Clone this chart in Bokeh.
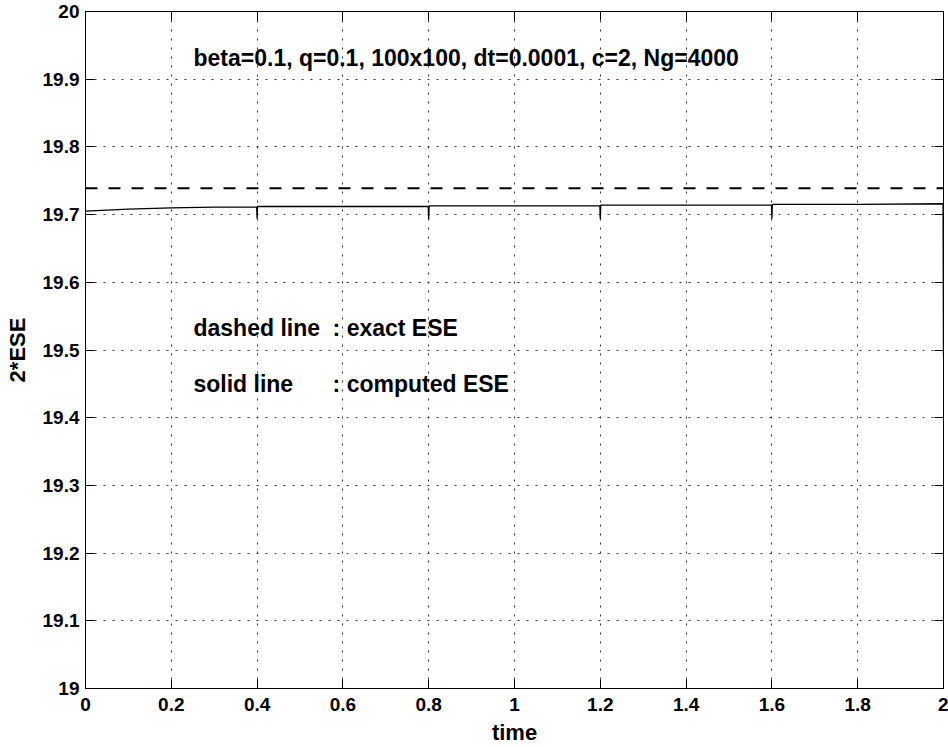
from bokeh.plotting import figure
from bokeh.models import Range1d, FixedTicker, LinearAxis
from bokeh.embed import file_html
from bokeh.resources import INLINE
from bokeh.core.properties import value

# ---- data ----
time_computed = [0.0, 0.1, 0.2, 0.3, 0.399, 0.4, 0.401, 0.6, 0.799, 0.8, 0.801,
                 1.0, 1.199, 1.2, 1.201, 1.4, 1.599, 1.6, 1.601, 1.8, 1.999, 2.0]
ese_computed = [19.705, 19.708, 19.710, 19.711, 19.711, 19.694, 19.712, 19.712,
                19.712, 19.693, 19.713, 19.713, 19.713, 19.693, 19.714, 19.714,
                19.714, 19.694, 19.715, 19.715, 19.716, 19.489]
time_exact = [0.0, 2.0]
ese_exact = [19.739, 19.739]

x_ticks = [0, 0.2, 0.4, 0.6, 0.8, 1.0, 1.2, 1.4, 1.6, 1.8, 2.0]
x_tick_labels = ["0", "0.2", "0.4", "0.6", "0.8", "1", "1.2", "1.4", "1.6", "1.8", "2"]
y_ticks = [19.0, 19.1, 19.2, 19.3, 19.4, 19.5, 19.6, 19.7, 19.8, 19.9, 20.0]
y_tick_labels = ["19", "19.1", "19.2", "19.3", "19.4", "19.5", "19.6", "19.7", "19.8", "19.9", "20"]

note_x = [0.2517, 0.2517, 0.2517, 0.576, 0.576]
note_y = [19.9306, 19.5332, 19.4505, 19.5332, 19.4505]
note_text = ["beta=0.1, q=0.1, 100x100, dt=0.0001, c=2, Ng=4000",
             "dashed line", "solid line", ": exact ESE", ": computed ESE"]

FONT = "Liberation Sans"

p = figure(width=948, height=747, output_backend="svg", toolbar_location=None,
           x_range=Range1d(0, 2), y_range=Range1d(19, 20),
           min_border_left=85, min_border_right=5, min_border_top=11, min_border_bottom=59)
p.background_fill_color = "white"
p.border_fill_color = "white"
p.outline_line_color = "black"
p.outline_line_width = 1

xt = dict(zip(x_ticks, x_tick_labels))
yt = dict(zip(y_ticks, y_tick_labels))

def style_axis(ax, ticks, overrides, labels=True):
    ax.ticker = FixedTicker(ticks=ticks)
    ax.major_tick_in = 9
    ax.major_tick_out = 0
    ax.minor_tick_in = 0
    ax.minor_tick_out = 0
    ax.axis_line_color = "black"
    ax.major_tick_line_color = "black"
    ax.major_tick_line_width = 1
    if labels:
        ax.major_label_overrides = overrides
        ax.major_label_text_font = FONT
        ax.major_label_text_font_style = "bold"
        ax.major_label_text_font_size = "19px"
        ax.major_label_text_color = "black"
        ax.axis_label_text_font = FONT
        ax.axis_label_text_font_style = "bold"
        ax.axis_label_text_font_size = "22px"
        ax.axis_label_text_color = "black"
    else:
        ax.major_label_overrides = {t: "" for t in ticks}
        ax.major_label_text_font_size = "1px"
        ax.major_label_standoff = 0

style_axis(p.xaxis[0], x_ticks, xt)
style_axis(p.yaxis[0], y_ticks, yt)
p.xaxis[0].axis_label = "time"
p.yaxis[0].axis_label = "2*ESE"
p.xaxis[0].major_label_standoff = 9
p.xaxis[0].axis_label_standoff = 6
p.yaxis[0].major_label_standoff = 6
p.yaxis[0].axis_label_standoff = 10

top_ax = LinearAxis()
style_axis(top_ax, x_ticks, xt, labels=False)
p.add_layout(top_ax, "above")
right_ax = LinearAxis()
style_axis(right_ax, y_ticks, yt, labels=False)
p.add_layout(right_ax, "right")

for g, t in ((p.xgrid[0], x_ticks), (p.ygrid[0], y_ticks)):
    g.ticker = FixedTicker(ticks=t)
    g.grid_line_color = "#333333"
    g.grid_line_dash = "2 7"
    g.grid_line_width = 1

p.line(time_exact, ese_exact, line_color="black", line_width=2, line_dash="12 11")
p.line(time_computed, ese_computed, line_color="black", line_width=1.3)

p.text(x=note_x, y=note_y, text=note_text, text_font=value(FONT),
       text_font_style="bold", text_font_size="23px", text_color="black",
       text_baseline="alphabetic", text_align="left")

open("out.html", "w").write(file_html(p, INLINE))
